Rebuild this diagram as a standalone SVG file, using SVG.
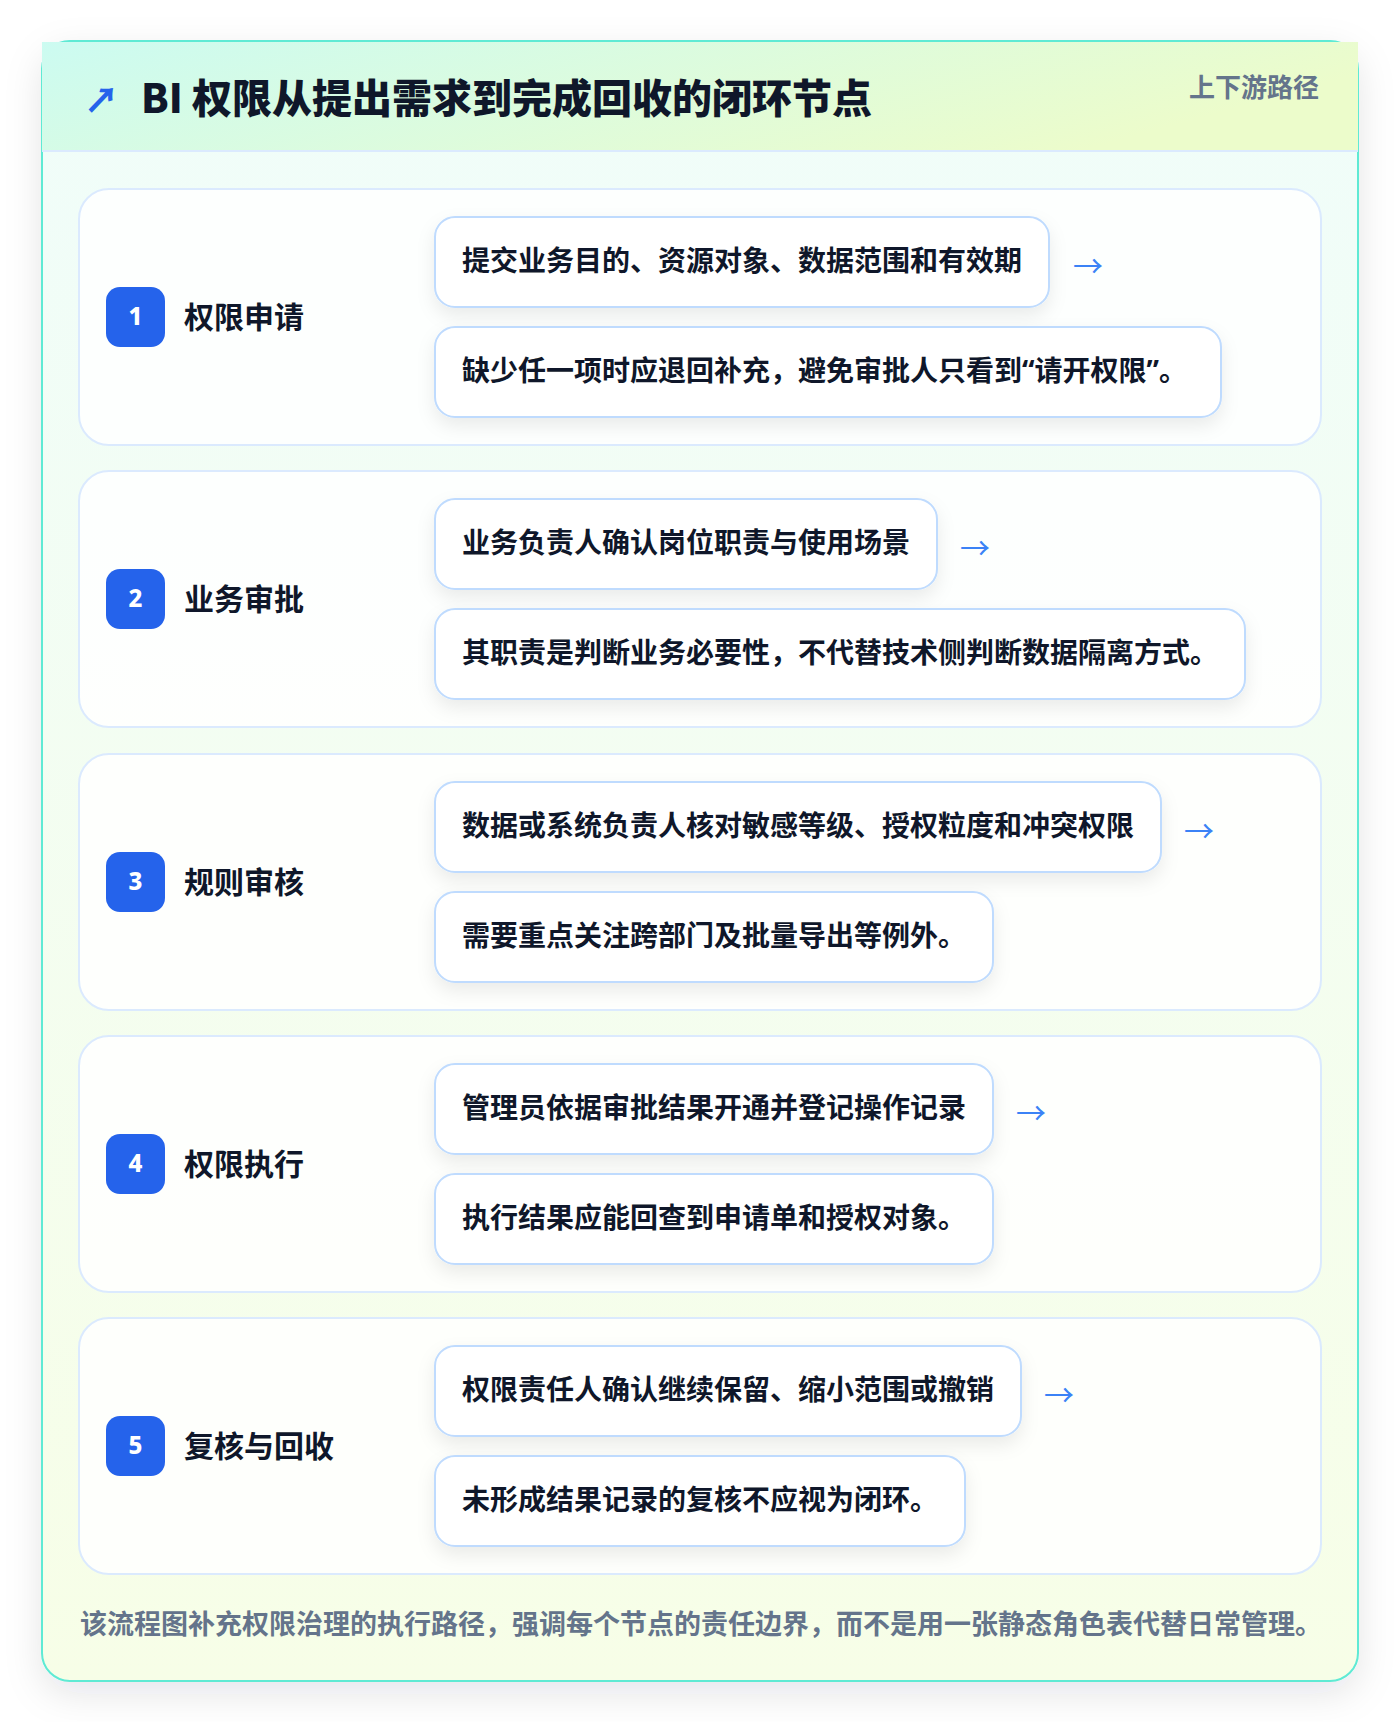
<svg xmlns="http://www.w3.org/2000/svg" width="1400" height="1722" viewBox="0 0 1400 1722">
<defs>
<linearGradient id="hdr" x1="0" y1="0" x2="1" y2="0.3"><stop offset="0" stop-color="#ccfbf1"/><stop offset="1" stop-color="#ecfccb"/></linearGradient>
<linearGradient id="body" x1="0" y1="0" x2="0" y2="1"><stop offset="0" stop-color="#f0fdfa"/><stop offset="1" stop-color="#f7fee7"/></linearGradient>
<filter id="cardShadow" x="-10%" y="-10%" width="120%" height="120%"><feDropShadow dx="0" dy="12" stdDeviation="18" flood-color="#0f172a" flood-opacity="0.10"/></filter>
<filter id="boxShadow" x="-10%" y="-30%" width="120%" height="170%"><feDropShadow dx="0" dy="8" stdDeviation="9" flood-color="#0f172a" flood-opacity="0.08"/></filter>
<style>
.t{font-family:"Noto Sans CJK SC","Noto Sans",sans-serif;}
.title{font-size:40px;font-weight:900;fill:#0f172a;}
.tag{font-size:26px;font-weight:700;fill:#64748b;}
.lab{font-size:30px;font-weight:700;fill:#0f172a;}
.num{font-family:"Noto Sans","DejaVu Sans",sans-serif;font-size:24px;font-weight:800;fill:#ffffff;}
.txt{font-size:28px;font-weight:700;fill:#0f172a;}
.q{font-family:"Noto Sans","Liberation Sans",sans-serif;}
.arr{font-size:30px;fill:#3b82f6;}
.foot{font-size:27px;font-weight:700;fill:#64748b;}
.step{fill:#ffffff;fill-opacity:0.85;stroke:#dbeafe;stroke-width:2;}
.box{fill:#ffffff;stroke:#bfdbfe;stroke-width:2;}
.badge{fill:#2563eb;}
</style>
</defs>
<rect x="0" y="0" width="1400" height="1722" fill="#ffffff"/>
<g id="frame">
<rect x="42" y="41" width="1316" height="1640" rx="28" fill="url(#body)" stroke="#5eead4" stroke-width="2" filter="url(#cardShadow)"/>
<rect x="42" y="42" width="1316" height="109" fill="url(#hdr)"/>
<line x1="42" y1="151" x2="1358" y2="151" stroke="#dbeafe" stroke-width="2"/>
<text class="t" x="84" y="113" font-size="35" font-weight="900" fill="#2563eb">↗</text>
<text class="t title" x="141" y="113">BI 权限从提出需求到完成回收的闭环节点</text>
<text class="t tag" x="1319" y="97" text-anchor="end">上下游路径</text>
</g>
<g id="step1">
<rect class="step" x="79" y="189" width="1242" height="256" rx="30"/>
<rect class="badge" x="106" y="287" width="59" height="60" rx="14"/>
<text class="num" x="135.5" y="325" text-anchor="middle">1</text>
<text class="t lab" x="184" y="328">权限申请</text>
<rect class="box" x="435" y="217" width="614" height="90" rx="20" filter="url(#boxShadow)"/>
<text class="t txt" x="462" y="271">提交业务目的、资源对象、数据范围和有效期</text>
<rect class="box" x="435" y="327" width="786" height="90" rx="20" filter="url(#boxShadow)"/>
<text class="t txt" x="462" y="381">缺少任一项时应退回补充，避免审批人只看到<tspan class="q">“</tspan>请开权限<tspan class="q">”</tspan>。</text>
</g>
<g id="step2">
<rect class="step" x="79" y="471" width="1242" height="256" rx="30"/>
<rect class="badge" x="106" y="569" width="59" height="60" rx="14"/>
<text class="num" x="135.5" y="607" text-anchor="middle">2</text>
<text class="t lab" x="184" y="610">业务审批</text>
<rect class="box" x="435" y="499" width="502" height="90" rx="20" filter="url(#boxShadow)"/>
<text class="t txt" x="462" y="553">业务负责人确认岗位职责与使用场景</text>
<rect class="box" x="435" y="609" width="810" height="90" rx="20" filter="url(#boxShadow)"/>
<text class="t txt" x="462" y="663">其职责是判断业务必要性，不代替技术侧判断数据隔离方式。</text>
</g>
<g id="step3">
<rect class="step" x="79" y="754" width="1242" height="256" rx="30"/>
<rect class="badge" x="106" y="852" width="59" height="60" rx="14"/>
<text class="num" x="135.5" y="890" text-anchor="middle">3</text>
<text class="t lab" x="184" y="893">规则审核</text>
<rect class="box" x="435" y="782" width="726" height="90" rx="20" filter="url(#boxShadow)"/>
<text class="t txt" x="462" y="836">数据或系统负责人核对敏感等级、授权粒度和冲突权限</text>
<rect class="box" x="435" y="892" width="558" height="90" rx="20" filter="url(#boxShadow)"/>
<text class="t txt" x="462" y="946">需要重点关注跨部门及批量导出等例外。</text>
</g>
<g id="step4">
<rect class="step" x="79" y="1036" width="1242" height="256" rx="30"/>
<rect class="badge" x="106" y="1134" width="59" height="60" rx="14"/>
<text class="num" x="135.5" y="1172" text-anchor="middle">4</text>
<text class="t lab" x="184" y="1175">权限执行</text>
<rect class="box" x="435" y="1064" width="558" height="90" rx="20" filter="url(#boxShadow)"/>
<text class="t txt" x="462" y="1118">管理员依据审批结果开通并登记操作记录</text>
<rect class="box" x="435" y="1174" width="558" height="90" rx="20" filter="url(#boxShadow)"/>
<text class="t txt" x="462" y="1228">执行结果应能回查到申请单和授权对象。</text>
</g>
<g id="step5">
<rect class="step" x="79" y="1318" width="1242" height="256" rx="30"/>
<rect class="badge" x="106" y="1416" width="59" height="60" rx="14"/>
<text class="num" x="135.5" y="1454" text-anchor="middle">5</text>
<text class="t lab" x="184" y="1457">复核与回收</text>
<rect class="box" x="435" y="1346" width="586" height="90" rx="20" filter="url(#boxShadow)"/>
<text class="t txt" x="462" y="1400">权限责任人确认继续保留、缩小范围或撤销</text>
<rect class="box" x="435" y="1456" width="530" height="90" rx="20" filter="url(#boxShadow)"/>
<text class="t txt" x="462" y="1510">未形成结果记录的复核不应视为闭环。</text>
</g>
<g id="connectors">
<text class="t arr" x="1073" y="277">→</text>
<text class="t arr" x="960" y="559">→</text>
<text class="t arr" x="1184" y="842">→</text>
<text class="t arr" x="1016" y="1124">→</text>
<text class="t arr" x="1044" y="1406">→</text>
</g>
<g id="footer">
<text class="t foot" x="80" y="1634">该流程图补充权限治理的执行路径，强调每个节点的责任边界，而不是用一张静态角色表代替日常管理。</text>
</g>
</svg>
